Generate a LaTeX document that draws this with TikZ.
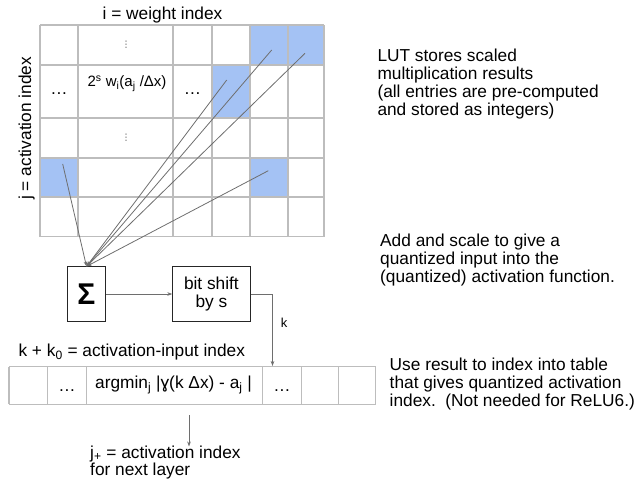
\documentclass[tikz,border=0pt]{standalone}
\usepackage{fontspec}
\setmainfont{Liberation Sans}
\newfontfamily\dejavu{DejaVu Sans}
\usetikzlibrary{arrows.meta}
\definecolor{gridgray}{HTML}{BDBDBD}
\definecolor{cellblue}{HTML}{A4C2F4}
\definecolor{wire}{HTML}{6E6E6E}
\begin{document}
\begin{tikzpicture}[x=1pt,y=-1pt,
  txt/.style={font=\fontsize{17.3}{18.3}\selectfont, inner sep=0pt, align=left},
  small/.style={font=\fontsize{15}{16}\selectfont, inner sep=0pt},
  gridline/.style={draw=gridgray, line width=1.1pt},
  box/.style={draw=black!85, line width=0.9pt, inner sep=0pt},
  wirearrow/.style={draw=wire, line width=0.8pt, -{Stealth[length=5pt,width=3.6pt]}},
  vdots/.style={font=\dejavu\fontsize{9}{9}\selectfont, inner sep=0pt, text=black!70}]
\useasboundingbox (0,0) rectangle (639,480);

% ---------- look-up table: highlighted entries ----------
\fill[cellblue] (250,25) rectangle (324,65);
\fill[cellblue] (212,65) rectangle (250,118);
\fill[cellblue] (40,158) rectangle (78,197);
\fill[cellblue] (250,158) rectangle (288,197);

% ---------- look-up table: grid ----------
\foreach \x in {40,78,173,212,250,288,324}
  \draw[gridline] (\x,25) -- (\x,236.5);
\foreach \y in {25,65,118,158,197,236.5}
  \draw[gridline] (40,\y) -- (324,\y);

% ---------- look-up table: entries ----------
\node[vdots] (dotsA) at (126,45) {⋮};
\node[vdots] (dotsB) at (126,138) {⋮};
\node[txt, anchor=base] (ellA) at (59,94) {…};
\node[txt, anchor=base] (ellB) at (192.5,94) {…};
\node[small, anchor=base west] (entry) at (87.3,86.7)
  {2\textsuperscript{s} w\textsubscript{i}(a\textsubscript{j} /Δx)};

% ---------- axis labels ----------
\node[txt, anchor=base] (ilabel) at (162.5,19.3) {i = weight index};
\node[txt, anchor=base, rotate=90] (jlabel) at (31,128.3) {j = activation index};

% ---------- selected entries feeding the sum ----------
\coordinate (s1) at (62.7,164);
\coordinate (s2) at (226.7,80);
\coordinate (s3) at (271.7,50);
\coordinate (s4) at (305,53.3);
\coordinate (s5) at (268.3,170.7);

% ---------- sum and shift ----------
\node[box, minimum width=38.4pt, minimum height=54.3pt] (sum) at (86.5,294)
  {\fontsize{30}{30}\selectfont\bfseries Σ};
\node[box, minimum width=77.3pt, minimum height=54.3pt, align=center,
  font=\fontsize{17.3}{18.3}\selectfont] (shift) at (211.4,294) {bit shift\\by s};

\foreach \s in {s1,s2,s3,s4,s5}
  \draw[wirearrow] (\s) -- (sum.north);
\draw[wirearrow] (sum.east) -- (shift.west);

% ---------- activation table ----------
\foreach \x in {9,47.3,86.7,262.7,301.7,338.3,375.5}
  \draw[gridline] (\x,366.7) -- (\x,404.3);
\draw[gridline] (9,366.7) -- (375.5,366.7);
\draw[gridline] (9,404.3) -- (375.5,404.3);

\node[txt, anchor=base] (ellC) at (67,391) {…};
\node[txt, anchor=base] (ellD) at (282,391) {…};
\node[txt, anchor=base west] (argcell) at (95,388.3)
  {argmin\textsubscript{j} |ɣ(k Δx) - a\textsubscript{j} |};
\node[txt, anchor=base west] (klabel0) at (18.3,356.7)
  {k + k\textsubscript{0} = activation-input index};

\coordinate (kin) at (272.5,366);
\draw[wirearrow] (shift.east) -| (kin);
\node[font=\fontsize{13}{13}\selectfont, inner sep=0pt, anchor=base] (klabel) at (284,327) {k};

\coordinate (outA) at (189,415);
\coordinate (outB) at (189,446.5);
\draw[wirearrow] (outA) -- (outB);
% multi-line nodes: the base anchor sits on the last line
\node[txt, anchor=base west, font=\fontsize{17.3}{17.4}\selectfont] (jnext) at (90,475.7)
  {j\textsubscript{+} = activation index\\for next layer};

% ---------- notes ----------
\node[txt, anchor=base west] (note1) at (377.3,115.9)
  {LUT stores scaled\\multiplication results\\(all entries are pre-computed\\and stored as integers)};
\node[txt, anchor=base west] (note2) at (380,282.6)
  {Add and scale to give a\\quantized input into the\\(quantized) activation function.};
\node[txt, anchor=base west] (note3) at (389.5,406.6)
  {Use result to index into table\\that gives quantized activation\\index.\ \ (Not needed for ReLU6.)};
\end{tikzpicture}
\end{document}
